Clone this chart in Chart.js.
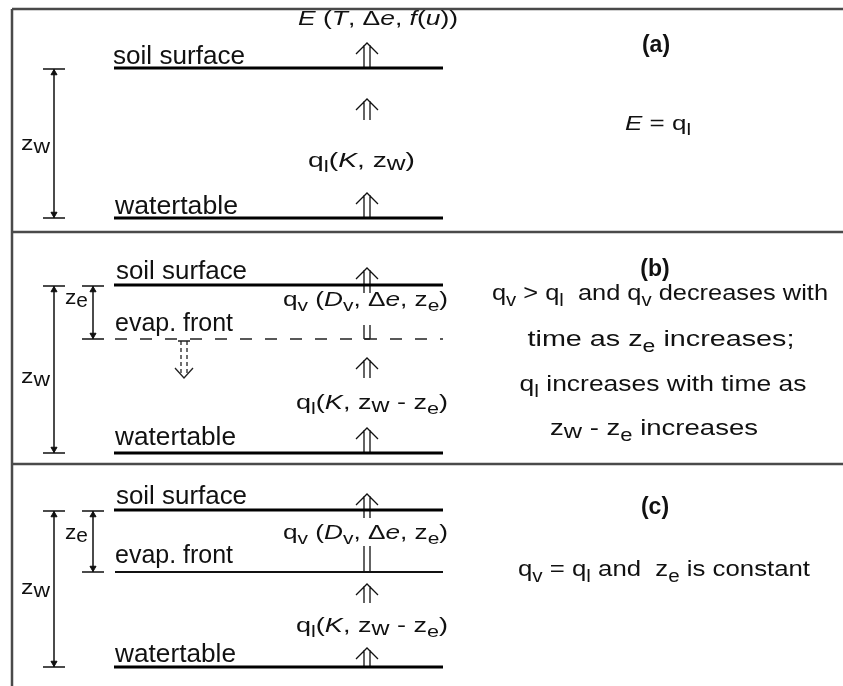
<!DOCTYPE html>
<html>
<head>
<meta charset="utf-8">
<script src="https://cdn.jsdelivr.net/npm/chart.js@4/dist/chart.umd.min.js"></script>
<style>
html,body{margin:0;padding:0;background:#fff;}
#wrap{width:843px;height:686px;}
</style>
</head>
<body>
<div id="wrap"><canvas id="c" width="843" height="686"></canvas></div>
<script>
// ---- Diagram geometry (diagram units, y grows downward) ----
const panelNames = ['(a)', '(b)', '(c)'];
const panelSeparatorsY = [232, 464];
const frameTopY = 9;
const frameLeftX = 12;
const layerXRange = [114, 443];
const soilSurfaceY = [68, 285, 510];
const waterTableY = [218, 453, 667];
const evapFrontY = [null, 339, 572];      // (b) moving front (dashed), (c) fixed front
const zwBracketX = 54;
const zeBracketX = 93;
const flowArrowX = 367;
const upArrows = [[43, 68], [99, 120], [193, 218], [268, 293], [358, 378], [428, 453], [494, 518], [584, 603], [648, 667]];
const vapourShafts = [[325, 339], [546, 572]];
const frontDescentArrow = [184, 341, 378];

// ---- helpers ----
function segs(list) {
  const out = [];
  list.forEach((poly, i) => {
    if (i > 0) out.push({x: poly[0][0], y: null});
    poly.forEach(p => out.push({x: p[0], y: p[1]}));
  });
  return out;
}
function lineDS(list, color, width, dash) {
  return {data: segs(list), showLine: true, borderColor: color, borderWidth: width,
    borderDash: dash || [], pointRadius: 0, spanGaps: false, fill: false, tension: 0,
    borderCapStyle: 'butt'};
}

const frameLines = [
  [[frameLeftX, frameTopY], [843, frameTopY]],
  [[frameLeftX, frameTopY], [frameLeftX, 686]],
  ...panelSeparatorsY.map(y => [[frameLeftX, y], [843, y]])
];
const layerLines = [];
soilSurfaceY.forEach((y, i) => {
  layerLines.push([[layerXRange[0], y], [layerXRange[1], y]]);
  layerLines.push([[layerXRange[0], waterTableY[i]], [layerXRange[1], waterTableY[i]]]);
});
const dashedFront = [[[layerXRange[0] + 1, evapFrontY[1]], [layerXRange[1], evapFrontY[1]]]];
const fixedFront = [[[layerXRange[0] + 1, evapFrontY[2]], [layerXRange[1], evapFrontY[2]]]];

const dimLines = [];
const dimHeads = [];
const dimRot = [];
soilSurfaceY.forEach((top, i) => {
  const bot = waterTableY[i];
  const t = top + 1;
  dimLines.push([[zwBracketX, t], [zwBracketX, bot]]);
  dimLines.push([[zwBracketX - 11, t], [zwBracketX + 11, t]]);
  dimLines.push([[zwBracketX - 11, bot], [zwBracketX + 11, bot]]);
  dimHeads.push({x: zwBracketX, y: t + 4}); dimRot.push(0);
  dimHeads.push({x: zwBracketX, y: bot - 4}); dimRot.push(180);
  if (evapFrontY[i] !== null) {
    const e = evapFrontY[i];
    dimLines.push([[zeBracketX, t], [zeBracketX, e]]);
    dimLines.push([[zeBracketX - 11, t], [zeBracketX + 11, t]]);
    dimLines.push([[zeBracketX - 11, e], [zeBracketX + 11, e]]);
    dimHeads.push({x: zeBracketX, y: t + 4}); dimRot.push(0);
    dimHeads.push({x: zeBracketX, y: e - 4}); dimRot.push(180);
  }
});

const arrowLines = [];
upArrows.forEach(([tip, bot]) => {
  arrowLines.push([[flowArrowX - 3, tip + 2], [flowArrowX - 3, bot]]);
  arrowLines.push([[flowArrowX + 3, tip + 2], [flowArrowX + 3, bot]]);
  arrowLines.push([[flowArrowX - 11, tip + 11], [flowArrowX, tip], [flowArrowX + 11, tip + 11]]);
});
vapourShafts.forEach(([a, b], i) => {
  arrowLines.push([[flowArrowX - 3, a], [flowArrowX - 3, b]]);
  arrowLines.push([[flowArrowX + 3, a], [flowArrowX + 3, b]]);
  if (i === 0) arrowLines.push([[flowArrowX - 3, b], [flowArrowX + 3, b]]);
});
const [dax, day0, day1] = frontDescentArrow;
const descentShafts = [[[dax - 3, day0], [dax - 3, day1 - 3]], [[dax + 3, day0], [dax + 3, day1 - 3]]];
const descentHead = [[[dax - 9, day1 - 10], [dax, day1], [dax + 9, day1 - 10]], [[dax - 6, day0], [dax + 6, day0]]];

// ---- texts ----
const FAM = '"Liberation Sans", Arial, Helvetica, sans-serif';
const texts = [
  // panel (a)
  {p: [['E','i'],[' (','n'],['T','i'],[', Δ','n'],['e','i'],[', ','n'],['f','i'],['(','n'],['u','i'],['))','n']], x: 298, y: 25, s: 21, w: 160},
  {p: [['soil surface','n']], x: 113, y: 64, s: 25, w: 132},
  {p: [['q','n'],['l','s'],['(','n'],['K','i'],[', z','n'],['w','w'],[')','n']], x: 308, y: 167, s: 21, w: 107},
  {p: [['watertable','n']], x: 115, y: 214, s: 25, w: 123},
  {p: [['z','n'],['w','w']], x: 21, y: 150, s: 21, w: 29},
  {p: [[panelNames[0],'b']], x: 656, y: 52, s: 23, align: 'center'},
  {p: [['E','i'],[' = q','n'],['l','s']], x: 625, y: 130, s: 21, w: 66},
  // panel (b)
  {p: [['soil surface','n']], x: 116, y: 279, s: 25, w: 131},
  {p: [['q','n'],['v','s'],[' (','n'],['D','i'],['v','s'],[', Δ','n'],['e','i'],[', z','n'],['e','s'],[')','n']], x: 283, y: 306, s: 21, w: 165},
  {p: [['evap. front','n']], x: 115, y: 331, s: 25, w: 118},
  {p: [['z','n'],['e','w']], x: 65, y: 304, s: 21, w: 23},
  {p: [['z','n'],['w','w']], x: 21, y: 383, s: 21, w: 29},
  {p: [['q','n'],['l','s'],['(','n'],['K','i'],[', z','n'],['w','w'],[' - z','n'],['e','s'],[')','n']], x: 296, y: 409, s: 21, w: 152},
  {p: [['watertable','n']], x: 115, y: 445, s: 25, w: 121},
  {p: [[panelNames[1],'b']], x: 655, y: 276, s: 23, align: 'center'},
  {p: [['q','n'],['v','s'],[' > q','n'],['l','s'],['  and q','n'],['v','s'],[' decreases with','n']], x: 660, y: 300, s: 22, w: 336, align: 'center'},
  {p: [['time as z','n'],['e','s'],[' increases;','n']], x: 661, y: 346, s: 22, w: 267, align: 'center'},
  {p: [['q','n'],['l','s'],[' increases with time as','n']], x: 663, y: 391, s: 22, w: 287, align: 'center'},
  {p: [['z','n'],['w','w'],[' - z','n'],['e','s'],[' increases','n']], x: 654, y: 435, s: 22, w: 208, align: 'center'},
  // panel (c)
  {p: [['soil surface','n']], x: 116, y: 504, s: 25, w: 131},
  {p: [['q','n'],['v','s'],[' (','n'],['D','i'],['v','s'],[', Δ','n'],['e','i'],[', z','n'],['e','s'],[')','n']], x: 283, y: 539, s: 21, w: 165},
  {p: [['evap. front','n']], x: 115, y: 563, s: 25, w: 118},
  {p: [['z','n'],['e','w']], x: 65, y: 539, s: 21, w: 23},
  {p: [['z','n'],['w','w']], x: 21, y: 594, s: 21, w: 29},
  {p: [['q','n'],['l','s'],['(','n'],['K','i'],[', z','n'],['w','w'],[' - z','n'],['e','s'],[')','n']], x: 296, y: 632, s: 21, w: 152},
  {p: [['watertable','n']], x: 115, y: 662, s: 25, w: 121},
  {p: [[panelNames[2],'b']], x: 655, y: 514, s: 23, align: 'center'},
  {p: [['q','n'],['v','s'],[' = q','n'],['l','s'],[' and  z','n'],['e','s'],[' is constant','n']], x: 664, y: 576, s: 22, w: 292, align: 'center'}
];

// style codes: n normal, i italic, b bold, s subscript, w wide subscript (nearly full size)
function fontFor(st, size) {
  let sz = size;
  if (st === 's') sz = size * 0.8;
  if (st === 'w') sz = size * 0.92;
  return (st.includes('i') ? 'italic ' : '') + (st.includes('b') ? 'bold ' : '') + sz + 'px ' + FAM;
}
function dropFor(st, size) {
  if (st === 's') return size * 0.25;
  if (st === 'w') return size * 0.12;
  return 0;
}

const textPlugin = {
  id: 'diagramText',
  beforeDraw(chart) {
    const c = chart.ctx;
    c.save(); c.fillStyle = '#fff'; c.fillRect(0, 0, chart.width, chart.height); c.restore();
  },
  afterDatasetsDraw(chart) {
    const ctx = chart.ctx, xs = chart.scales.x, ys = chart.scales.y;
    ctx.save();
    ctx.fillStyle = '#111';
    ctx.textBaseline = 'alphabetic';
    ctx.textAlign = 'left';
    texts.forEach(t => {
      let w = 0;
      t.p.forEach(([s, st]) => { ctx.font = fontFor(st, t.s); w += ctx.measureText(s).width; });
      const px = xs.getPixelForValue(t.x), py = ys.getPixelForValue(t.y);
      let sx = 1;
      if (t.w) sx = (xs.getPixelForValue(t.x + t.w) - px) / w;
      const x0 = t.align === 'center' ? px - w * sx / 2 : px;
      ctx.save();
      ctx.translate(x0, py);
      ctx.scale(sx, 1);
      let cx = 0;
      t.p.forEach(([s, st]) => {
        ctx.font = fontFor(st, t.s);
        ctx.fillText(s, cx, dropFor(st, t.s));
        cx += ctx.measureText(s).width;
      });
      ctx.restore();
    });
    ctx.restore();
  }
};

new Chart(document.getElementById('c'), {
  type: 'scatter',
  data: {
    datasets: [
      lineDS(frameLines, '#4a4a4a', 2.5),
      lineDS(layerLines, '#000', 3),
      lineDS(dashedFront, '#222', 1.6, [12, 13]),
      lineDS(fixedFront, '#111', 2),
      lineDS(dimLines, '#111', 1.5),
      lineDS(arrowLines, '#111', 1.3),
      lineDS(descentShafts, '#222', 1.3, [4, 3]),
      lineDS(descentHead, '#222', 1.3),
      {data: dimHeads, showLine: false, pointStyle: 'triangle', pointRadius: 3.5,
       rotation: dimRot, backgroundColor: '#111', borderColor: '#111', borderWidth: 1}
    ]
  },
  options: {
    responsive: false,
    animation: false,
    devicePixelRatio: 1,
    layout: {padding: 0, autoPadding: false},
    plugins: {legend: {display: false}, tooltip: {enabled: false}},
    events: [],
    scales: {
      x: {type: 'linear', min: 0, max: 843, display: false},
      y: {type: 'linear', min: 0, max: 686, reverse: true, display: false}
    }
  },
  plugins: [textPlugin]
});
</script>
</body>
</html>
